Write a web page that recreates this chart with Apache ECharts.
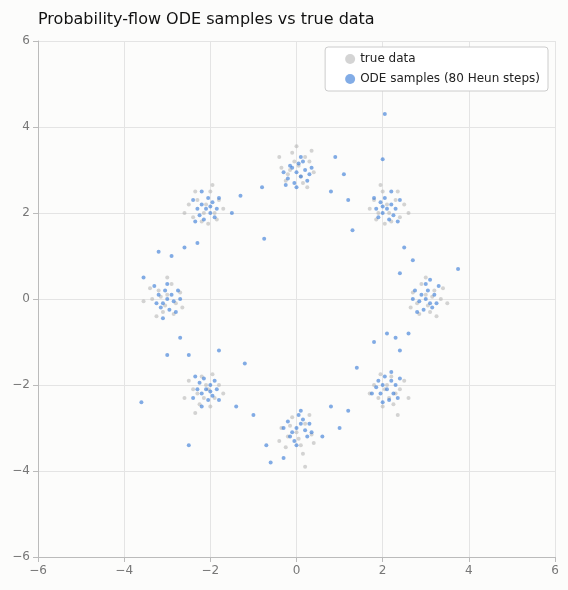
<!DOCTYPE html><html><head><meta charset="utf-8">
<script src="https://cdn.jsdelivr.net/npm/echarts@6/dist/echarts.min.js"></script>
<style>html,body{margin:0;background:#fcfcfb}#c{width:568px;height:590px}</style></head><body><div id="c"></div>
<script>
const axisTicks=[-6,-4,-2,0,2,4,6];
const trueData=[
[0.05,3.1],[-0.2,2.9],[0.3,3.2],[-0.1,3.4],[0.15,2.7],[-0.35,3.05],[0.4,2.95],[0.0,3.55],[-0.25,2.75],[0.2,3.3],[0.1,2.85],[-0.05,3.2],[0.35,3.45],[-0.4,3.3],[0.25,2.6],[-0.15,3.0],
[2.1,2.2],[1.9,2.0],[2.3,2.3],[2.0,2.5],[2.4,1.9],[1.8,2.3],[2.2,1.8],[2.5,2.2],[1.95,2.65],[2.15,2.0],[1.7,2.1],[2.35,2.5],[2.05,1.75],[2.6,2.0],[1.85,1.85],
[3.0,0.1],[2.8,-0.1],[3.2,0.2],[3.1,-0.3],[2.9,0.35],[3.35,0.0],[2.7,0.15],[3.05,-0.15],[3.25,-0.4],[2.85,-0.35],[3.4,0.25],[3.0,0.5],[2.65,-0.2],[3.15,0.05],[3.5,-0.1],
[2.1,-2.0],[2.3,-2.2],[1.9,-2.3],[2.2,-1.8],[2.0,-2.5],[2.4,-2.1],[1.8,-2.0],[2.25,-2.45],[2.5,-1.9],[1.95,-1.75],[2.15,-2.3],[1.7,-2.2],[2.35,-2.7],[2.6,-2.3],[2.05,-2.1],
[0.0,-3.1],[0.2,-2.9],[-0.2,-3.2],[0.1,-3.4],[-0.1,-2.75],[0.35,-3.15],[-0.35,-3.0],[0.15,-3.6],[-0.25,-3.45],[0.3,-2.7],[0.05,-3.25],[-0.15,-2.95],[0.4,-3.35],[0.2,-3.9],[-0.4,-3.3],
[-2.1,-2.0],[-2.3,-2.2],[-1.9,-2.3],[-2.2,-1.8],[-2.0,-2.5],[-2.4,-2.1],[-1.8,-2.0],[-2.25,-2.45],[-2.5,-1.9],[-1.95,-1.75],[-2.15,-2.3],[-1.7,-2.2],[-2.35,-2.65],[-2.6,-2.3],[-2.05,-2.1],
[-3.0,0.1],[-2.8,-0.1],[-3.2,0.2],[-3.1,-0.3],[-2.9,0.35],[-3.35,0.0],[-2.7,0.15],[-3.05,-0.15],[-3.25,-0.4],[-2.85,-0.35],[-3.4,0.25],[-3.0,0.5],[-2.65,-0.2],[-3.15,0.05],[-3.55,-0.05],
[-2.1,2.2],[-1.9,2.0],[-2.3,2.3],[-2.0,2.5],[-2.4,1.9],[-1.8,2.3],[-2.2,1.8],[-2.5,2.2],[-1.95,2.65],[-2.15,2.0],[-1.7,2.1],[-2.35,2.5],[-2.05,1.75],[-2.6,2.0],[-1.85,1.85]
];
const odeData=[
[0.0,2.95],[0.1,2.85],[-0.1,3.05],[0.2,3.0],[-0.2,2.8],[0.05,3.15],[0.25,2.75],[-0.05,2.7],[0.15,3.2],[-0.15,3.1],[0.3,2.9],[0.0,2.6],[-0.3,2.95],[0.1,3.3],[0.35,3.05],[-0.25,2.65],
[2.1,2.1],[2.0,2.0],[2.2,2.2],[1.95,2.25],[2.25,1.95],[2.05,2.35],[2.3,2.1],[1.85,2.1],[2.15,1.85],[2.4,2.3],[1.9,1.9],[2.0,2.15],[2.35,1.8],[1.8,2.35],[2.2,2.5],
[3.0,0.0],[2.9,0.1],[3.1,-0.1],[2.85,-0.05],[3.05,0.2],[3.2,0.1],[2.95,-0.25],[3.15,-0.2],[2.75,0.2],[3.3,0.3],[2.8,-0.3],[3.0,0.35],[3.25,-0.1],[2.7,0.0],[3.1,0.45],
[2.1,-2.1],[2.0,-2.0],[2.2,-1.9],[1.95,-2.2],[2.25,-2.2],[2.05,-1.8],[2.3,-2.0],[1.85,-2.05],[2.15,-2.35],[2.4,-1.85],[1.9,-1.9],[2.0,-2.4],[2.35,-2.3],[1.75,-2.2],[2.2,-1.7],
[0.0,-3.0],[0.1,-2.9],[-0.1,-3.1],[0.2,-3.05],[-0.2,-2.85],[0.05,-2.7],[0.25,-3.2],[-0.05,-3.3],[0.15,-2.8],[-0.15,-3.2],[0.3,-2.9],[0.0,-3.4],[-0.3,-3.0],[0.1,-2.6],[0.35,-3.1],
[-2.1,-2.1],[-2.0,-2.0],[-2.2,-2.2],[-1.95,-2.25],[-2.25,-1.95],[-2.05,-2.35],[-2.3,-2.1],[-1.85,-2.1],[-2.15,-1.85],[-2.4,-2.3],[-1.9,-1.9],[-2.0,-2.15],[-2.35,-1.8],[-1.8,-2.35],[-2.2,-2.5],
[-3.0,0.0],[-2.9,0.1],[-3.1,-0.1],[-2.85,-0.05],[-3.05,0.2],[-3.2,0.1],[-2.95,-0.25],[-3.15,-0.2],[-2.75,0.2],[-3.3,0.3],[-2.8,-0.3],[-3.0,0.35],[-3.25,-0.1],[-2.7,0.0],[-3.1,-0.45],
[-2.1,2.1],[-2.0,2.0],[-2.2,2.2],[-1.95,2.25],[-2.25,1.95],[-2.05,2.35],[-2.3,2.1],[-1.85,2.1],[-2.15,1.85],[-2.4,2.3],[-1.9,1.9],[-2.0,2.15],[-2.35,1.8],[-1.8,2.35],[-2.2,2.5],
[0.8,2.5],[1.2,2.3],[-0.8,2.6],[-1.3,2.4],[1.1,2.9],[2.5,1.2],[2.7,0.9],[2.4,0.6],[2.6,-0.8],[2.4,-1.2],[2.3,-0.9],[1.2,-2.6],[0.8,-2.5],[1.0,-3.0],[0.6,-3.2],[-0.7,-3.4],[-1.0,-2.7],[-1.4,-2.5],[-0.6,-3.8],[-2.5,-1.3],[-2.7,-0.9],[-3.0,-1.3],[-2.9,1.0],[-2.6,1.2],[-3.2,1.1],[-2.3,1.3],[-1.5,2.0],[-0.75,1.4],[2.05,4.3],[3.75,0.7],[-3.55,0.5],[-3.6,-2.4],[-2.5,-3.4],[-1.2,-1.5],[1.4,-1.6],[1.8,-1.0],[2.1,-0.8],[1.3,1.6],[0.9,3.3],[-1.8,-1.2],[2.0,3.25],[-0.3,-3.7]
];
const ch=echarts.init(document.getElementById('c'));
const ax=()=>({type:'value',min:-6,max:6,interval:2,axisLine:{show:true,onZero:false,lineStyle:{color:'#bbb'}},axisTick:{show:true,lineStyle:{color:'#bbb'}},axisLabel:{color:'#777',fontSize:12,fontFamily:'DejaVu Sans',formatter:v=>String(v).replace('-','\u2212')},splitLine:{show:true,lineStyle:{color:'#e4e4e4'}}});
ch.setOption({backgroundColor:'#fcfcfb',animation:false,
title:{text:'Probability-flow ODE samples vs true data',left:33,top:7,textStyle:{fontSize:16,fontWeight:'normal',color:'#111',fontFamily:'DejaVu Sans'}},
legend:{right:20,top:47,orient:'vertical',icon:'circle',itemWidth:10,itemHeight:10,itemGap:8,padding:[6,8,6,20],borderColor:'#ccc',borderWidth:1,borderRadius:3,backgroundColor:'#fff',textStyle:{fontSize:12,color:'#222',fontFamily:'DejaVu Sans'},data:['true data','ODE samples (80 Heun steps)']},
grid:{left:38,right:13,top:41,bottom:33},
xAxis:ax(),yAxis:ax(),
series:[
{name:'true data',type:'scatter',symbolSize:4,itemStyle:{color:'#aaaaaa',opacity:0.5},data:trueData},
{name:'ODE samples (80 Heun steps)',type:'scatter',symbolSize:4,itemStyle:{color:'#2f74d6',opacity:0.6},data:odeData}
]});
</script></body></html>
